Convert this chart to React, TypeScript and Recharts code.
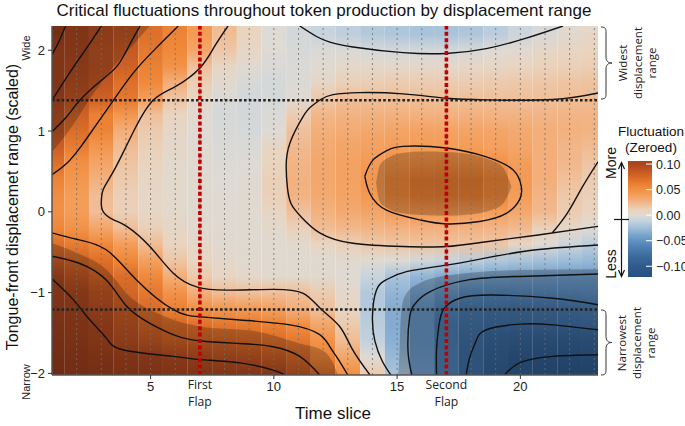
import React from 'react';
import { ComposedChart, XAxis, YAxis, Line, Area, ReferenceArea, ReferenceLine } from 'recharts';

// plot window (data units)
const X_MIN = 1;
const X_MAX = 23.15;
const Y_MIN = -2.02;
const Y_MAX = 2.3;

const timeSlices = [1, 2, 3, 4, 5, 6, 7, 8, 9, 10, 11, 12, 13, 14, 15, 16, 17, 18, 19, 20, 21, 22, 23];
const xTicks = [5, 10, 15, 20];
const yTicks = [-2, -1, 0, 1, 2];
const flapSlices = [7, 17];
const widestCut = 1.38;
const narrowestCut = -1.21;

// fluctuation (zeroed) per time slice, one array per displacement level
const rowY = [2.2, 2.0, 1.8, 1.6, 1.4, 1.2, 1.0, 0.8, 0.6, 0.4, 0.2, 0.0, -0.2, -0.4, -0.6, -0.8, -1.0, -1.2, -1.4, -1.6, -1.8, -2.0];
const fl_p22 = [0.12, 0.105, 0.095, 0.09, 0.07, 0.058, 0.042, 0.022, 0.01, 0.0, -0.005, -0.01, -0.014, -0.018, -0.02, -0.022, -0.022, -0.02, -0.015, -0.008, -0.003, 0.003, 0.006];
const fl_p20 = [0.105, 0.1, 0.092, 0.085, 0.065, 0.055, 0.035, 0.017, 0.007, 0.0, -0.003, -0.002, -0.002, -0.004, -0.005, -0.005, -0.005, -0.003, 0.0, 0.003, 0.006, 0.008, 0.01];
const fl_p18 = [0.105, 0.098, 0.092, 0.08, 0.06, 0.048, 0.02, 0.008, 0.002, -0.002, -0.002, 0.002, 0.005, 0.005, 0.005, 0.005, 0.005, 0.006, 0.007, 0.009, 0.011, 0.012, 0.013];
const fl_p16 = [0.103, 0.095, 0.088, 0.07, 0.055, 0.03, 0.013, 0.003, -0.003, -0.004, -0.002, 0.006, 0.012, 0.013, 0.014, 0.014, 0.014, 0.014, 0.015, 0.016, 0.017, 0.018, 0.019];
const fl_p14 = [0.1, 0.09, 0.08, 0.065, 0.04, 0.018, 0.007, -0.002, -0.005, -0.004, 0.002, 0.016, 0.021, 0.021, 0.021, 0.021, 0.02, 0.02, 0.02, 0.02, 0.02, 0.021, 0.022];
const fl_p12 = [0.095, 0.08, 0.06, 0.045, 0.02, 0.009, 0.002, -0.004, -0.005, -0.002, 0.014, 0.025, 0.027, 0.028, 0.028, 0.028, 0.028, 0.028, 0.027, 0.027, 0.026, 0.026, 0.026];
const fl_p10 = [0.09, 0.072, 0.058, 0.03, 0.015, 0.006, 0.0, -0.003, -0.004, 0.0, 0.02, 0.03, 0.032, 0.034, 0.036, 0.037, 0.037, 0.036, 0.035, 0.033, 0.03, 0.028, 0.027];
const fl_p08 = [0.082, 0.062, 0.045, 0.022, 0.012, 0.005, 0.001, -0.002, -0.002, 0.008, 0.024, 0.032, 0.035, 0.038, 0.04, 0.041, 0.041, 0.04, 0.038, 0.035, 0.03, 0.025, 0.022];
const fl_p06 = [0.07, 0.05, 0.035, 0.018, 0.01, 0.004, 0.001, -0.001, 0.0, 0.01, 0.026, 0.034, 0.037, 0.042, 0.05, 0.053, 0.054, 0.053, 0.048, 0.04, 0.03, 0.024, 0.018];
const fl_p04 = [0.058, 0.045, 0.028, 0.015, 0.008, 0.004, 0.002, 0.0, 0.001, 0.012, 0.028, 0.034, 0.037, 0.045, 0.058, 0.064, 0.065, 0.064, 0.058, 0.042, 0.03, 0.02, 0.014];
const fl_p02 = [0.052, 0.04, 0.022, 0.012, 0.007, 0.004, 0.002, 0.001, 0.002, 0.012, 0.027, 0.033, 0.036, 0.043, 0.056, 0.062, 0.063, 0.062, 0.056, 0.04, 0.026, 0.016, 0.012];
const fl_00 = [0.05, 0.04, 0.021, 0.012, 0.007, 0.004, 0.002, 0.001, 0.002, 0.008, 0.02, 0.028, 0.033, 0.036, 0.042, 0.045, 0.046, 0.044, 0.04, 0.034, 0.024, 0.014, 0.01];
const fl_m02 = [0.056, 0.048, 0.035, 0.021, 0.012, 0.006, 0.003, 0.002, 0.002, 0.004, 0.012, 0.022, 0.025, 0.027, 0.028, 0.029, 0.029, 0.028, 0.026, 0.024, 0.012, 0.006, 0.0];
const fl_m04 = [0.07, 0.063, 0.055, 0.04, 0.022, 0.01, 0.005, 0.003, 0.002, 0.002, 0.004, 0.008, 0.012, 0.016, 0.018, 0.019, 0.019, 0.019, 0.017, 0.008, 0.0, -0.008, -0.015];
const fl_m06 = [0.083, 0.078, 0.07, 0.056, 0.038, 0.017, 0.009, 0.005, 0.003, 0.002, 0.002, 0.002, 0.003, 0.002, 0.0, -0.005, -0.01, -0.014, -0.018, -0.021, -0.024, -0.026, -0.028];
const fl_m08 = [0.1, 0.09, 0.08, 0.072, 0.055, 0.03, 0.015, 0.008, 0.005, 0.004, 0.004, 0.003, 0.0, -0.01, -0.022, -0.03, -0.035, -0.038, -0.04, -0.042, -0.043, -0.044, -0.045];
const fl_m10 = [0.105, 0.1, 0.09, 0.076, 0.065, 0.048, 0.03, 0.022, 0.02, 0.02, 0.02, 0.014, 0.005, -0.018, -0.03, -0.04, -0.05, -0.057, -0.058, -0.058, -0.057, -0.056, -0.055];
const fl_m12 = [0.11, 0.105, 0.095, 0.085, 0.072, 0.06, 0.05, 0.045, 0.042, 0.038, 0.03, 0.02, 0.008, -0.018, -0.035, -0.05, -0.062, -0.07, -0.072, -0.073, -0.073, -0.072, -0.07];
const fl_m14 = [0.115, 0.11, 0.1, 0.09, 0.08, 0.075, 0.07, 0.066, 0.064, 0.06, 0.052, 0.035, 0.015, -0.015, -0.035, -0.05, -0.068, -0.076, -0.08, -0.081, -0.08, -0.08, -0.078];
const fl_m16 = [0.12, 0.115, 0.105, 0.095, 0.088, 0.082, 0.08, 0.079, 0.076, 0.072, 0.066, 0.048, 0.022, -0.012, -0.033, -0.05, -0.068, -0.08, -0.088, -0.092, -0.094, -0.094, -0.093];
const fl_m18 = [0.125, 0.12, 0.115, 0.108, 0.103, 0.098, 0.095, 0.092, 0.09, 0.086, 0.078, 0.06, 0.035, 0.0, -0.028, -0.048, -0.066, -0.082, -0.093, -0.1, -0.102, -0.102, -0.101];
const fl_m20 = [0.13, 0.125, 0.12, 0.115, 0.11, 0.107, 0.105, 0.103, 0.102, 0.1, 0.09, 0.075, 0.05, 0.015, -0.022, -0.045, -0.065, -0.083, -0.097, -0.105, -0.11, -0.112, -0.112];
const fluctRows = [fl_p22, fl_p20, fl_p18, fl_p16, fl_p14, fl_p12, fl_p10, fl_p08, fl_p06, fl_p04, fl_p02, fl_00, fl_m02, fl_m04, fl_m06, fl_m08, fl_m10, fl_m12, fl_m14, fl_m16, fl_m18, fl_m20];

// contour lines [time slice, displacement]
const cTopA = [[1, 1.94], [1.3, 2.12], [1.55, 2.3]];
const cTopB = [[1, 1.38], [1.5, 1.62], [2.0, 1.85], [2.5, 2.07], [3.0, 2.3]];
const cTopC = [[1, 0.99], [1.6, 1.18], [2.13, 1.38], [2.9, 1.6], [3.63, 1.8], [4.1, 2.04], [4.57, 2.3]];
const cTopD = [[1, 0.46], [1.6, 0.6], [2.2, 0.82], [2.8, 1.08], [3.49, 1.38], [4.3, 1.72], [5.2, 2.02], [6.12, 2.3]];
const cZero = [[8.14, 2.3], [7.6, 2.05], [7.0, 1.78], [6.0, 1.55], [5.1, 1.38], [4.4, 1.05], [3.88, 0.73], [3.4, 0.45], [3.07, 0.27], [3.0, 0.12], [3.08, 0.0], [3.5, -0.1], [4.03, -0.18], [4.97, -0.43], [5.92, -0.76], [6.87, -0.93], [8.08, -0.97], [9.97, -0.96], [11.19, -1.01], [11.9, -1.2], [12.67, -1.42], [13.2, -1.71], [13.9, -2.02]];
const cLowA = [[1, -0.26], [2.0, -0.34], [3.2, -0.47], [4.42, -0.84], [5.92, -1.21], [7.04, -1.3], [8.62, -1.34], [10.65, -1.4], [11.86, -1.52], [12.27, -1.67], [12.6, -1.82], [13.0, -2.02]];
const cLowB = [[1, -0.55], [2.13, -0.64], [3.22, -0.85], [4.03, -1.17], [4.97, -1.38], [6.0, -1.53], [7.04, -1.6], [8.62, -1.63], [9.97, -1.67], [11.05, -1.79], [11.86, -2.02]];
const cLowC = [[1, -0.83], [1.87, -1.09], [2.54, -1.34], [3.22, -1.57], [3.9, -1.71], [5.92, -1.79], [7.04, -1.83], [8.62, -1.87], [9.97, -1.96], [10.45, -2.02]];
const cUpper = [[11.05, 2.3], [11.73, 2.17], [12.27, 2.1], [13.21, 2.04], [15.24, 1.97], [17.0, 1.96], [18.62, 2.02], [20.24, 2.15], [21.73, 2.3]];
const cCentre = [[23.15, 1.47], [21.32, 1.39], [18.62, 1.385], [17.0, 1.405], [15.24, 1.46], [13.48, 1.475], [12.4, 1.45], [11.9, 1.39], [11.5, 1.3], [11.19, 1.18], [10.65, 0.85], [10.5, 0.56], [10.55, 0.3], [10.7, 0.1], [11.1, -0.06], [11.86, -0.26], [13.21, -0.39], [15.24, -0.43], [17.0, -0.43], [18.62, -0.37], [20.65, -0.29], [23.15, -0.18]];
const cRightEdge = [[21.3, -0.26], [21.9, -0.02], [22.5, 0.3], [23.15, 0.62]];
const cPeak = [[13.69, 0.44], [14.02, 0.64], [14.6, 0.76], [15.24, 0.81], [17.0, 0.79], [18.62, 0.68], [19.7, 0.52], [20.04, 0.31], [19.97, 0.15], [19.43, -0.02], [18.35, -0.12], [17.0, -0.15], [15.92, -0.1], [14.57, 0.02], [13.89, 0.23], [13.69, 0.44]];
const cDipA = [[23.15, -0.41], [20.65, -0.47], [18.62, -0.57], [17.0, -0.66], [15.38, -0.74], [14.57, -0.84], [14.16, -0.97], [14.0, -1.3], [14.1, -1.6], [14.4, -1.85], [14.75, -2.02]];
const cDipB = [[23.15, -0.77], [19.97, -0.8], [17.94, -0.84], [16.32, -0.99], [15.7, -1.15], [15.51, -1.3], [15.44, -1.71], [15.6, -2.02]];
const cDipC = [[23.15, -1.15], [21.32, -1.07], [18.89, -1.03], [17.54, -1.07], [16.9, -1.2], [16.7, -1.4], [16.6, -1.7], [16.6, -2.02]];
const cDipD = [[23.15, -1.46], [21.32, -1.4], [19.97, -1.39], [18.62, -1.46], [18.2, -1.6], [17.95, -1.8], [17.8, -2.02]];
const cDipE = [[23.15, -1.77], [21.32, -1.79], [19.97, -1.87], [19.36, -2.02]];
const contours = [cTopA, cTopB, cTopC, cTopD, cZero, cLowA, cLowB, cLowC, cUpper, cCentre, cRightEdge, cPeak, cDipA, cDipB, cDipC, cDipD, cDipE];

// shaded (strong) regions: [time slice, low, high]
const shadeTopLeft = [[1, 0.74, 2.3], [1.8, 1.05, 2.3], [2.5, 1.38, 2.3], [3.3, 1.72, 2.3], [4.1, 2.0, 2.3], [4.97, 2.3, 2.3]];
const shadeLowLeft = [[1, -2.02, -0.39], [1.87, -2.02, -0.49], [3.22, -2.02, -0.72], [4.16, -2.02, -1.05], [5.24, -2.02, -1.25], [7.0, -2.02, -1.42], [9.3, -2.02, -1.48], [11.05, -2.02, -1.63], [12.0, -2.02, -1.72], [12.4, -2.02, -1.87], [12.6, -2.02, -2.02]];
const shadePeak = [[14.15, 0.35, 0.36], [14.3, 0.12, 0.58], [14.7, 0.03, 0.68], [15.3, -0.02, 0.73], [16.0, -0.04, 0.745], [17.0, -0.05, 0.74], [18.0, -0.03, 0.71], [18.8, 0.02, 0.64], [19.3, 0.1, 0.55], [19.63, 0.3, 0.32]];
const shadeDip = [[15.05, -2.02, -2.02], [15.1, -2.02, -1.7], [15.15, -2.02, -1.3], [15.3, -2.02, -1.05], [15.92, -2.02, -0.88], [17.27, -2.02, -0.78], [19.97, -2.02, -0.72], [23.15, -2.02, -0.71]];
const shades = [shadeTopLeft, shadeLowLeft, shadePeak, shadeDip];

const legendTicks = [0.1, 0.05, 0, -0.05, -0.1];
const legendTickLabels = ['0.10', '0.05', '0.00', '\u22120.05', '\u22120.10'];
const firstFlapLabel = ['First', 'Flap'];
const secondFlapLabel = ['Second', 'Flap'];

const palette: [number, string][] = [
  [-0.12, '#28507f'],
  [-0.1, '#2f5a8c'],
  [-0.08, '#3d6b9e'],
  [-0.06, '#5283b6'],
  [-0.04, '#76a2cc'],
  [-0.025, '#a1bfd9'],
  [-0.01, '#c8d4dd'],
  [0, '#dedad4'],
  [0.01, '#e9d4bf'],
  [0.025, '#f2b689'],
  [0.04, '#f49d58'],
  [0.055, '#f0893a'],
  [0.07, '#de7029'],
  [0.085, '#c65a22'],
  [0.1, '#a9461e'],
  [0.13, '#8e381a'],
];

const hex = (s: string) => [1, 3, 5].map((i) => parseInt(s.slice(i, i + 2), 16));

const fluctColor = (v: number) => {
  if (v <= palette[0][0]) return palette[0][1];
  for (let i = 1; i < palette.length; i++) {
    const [v1, c1] = palette[i];
    if (v <= v1) {
      const [v0, c0] = palette[i - 1];
      const t = (v - v0) / (v1 - v0);
      const a = hex(c0);
      const b = hex(c1);
      return `rgb(${a.map((ch, k) => Math.round(ch + (b[k] - ch) * t)).join(',')})`;
    }
  }
  return palette[palette.length - 1][1];
};

const minus = (v: number) => (v < 0 ? `\u2212${Math.abs(v)}` : `${v}`);

const SANS = '"Liberation Sans", Arial, Helvetica, sans-serif';
const HUMAN = '"Open Sans", "Noto Sans", sans-serif';

const FlapLabel = (props: any) => {
  const vb = props.viewBox || {};
  const x = vb.x ?? 0;
  const bottom = (vb.y ?? 0) + (vb.height ?? 0);
  return (
    <g>
      {props.lines.map((l: string, i: number) => (
        <text key={l} x={x} y={bottom + 14 + i * 16.5} textAnchor="middle" fontSize={12.2} fontFamily={HUMAN} fill="#222">
          {l}
        </text>
      ))}
    </g>
  );
};

const brace = (top: number, bottom: number) => {
  const mid = (top + bottom) / 2;
  return `M601,${top} C606,${top} 606,${top + 2} 606,${top + 6} L606,${mid - 6} C606,${mid - 2} 608,${mid} 612,${mid} C608,${mid} 606,${mid + 2} 606,${mid + 6} L606,${bottom - 6} C606,${bottom - 2} 606,${bottom} 601,${bottom}`;
};

const App = () => {
  const span = Y_MAX - Y_MIN;
  return (
    <div style={{ position: 'absolute', left: 0, top: 0, width: 685, height: 426, background: '#fff' }}>
      <ComposedChart width={685} height={426} margin={{ top: 26, right: 87, bottom: 21, left: 22 }}>
        <defs>
          {timeSlices.map((t, c) => (
            <linearGradient key={t} id={`slice${t}`} x1="0" y1="0" x2="0" y2="1">
              {rowY.map((y, r) => (
                <stop key={y} offset={(Y_MAX - y) / span} stopColor={fluctColor(fluctRows[r][c])} />
              ))}
            </linearGradient>
          ))}
        </defs>
        <XAxis
          dataKey="x"
          type="number"
          domain={[X_MIN, X_MAX]}
          ticks={xTicks}
          interval={0}
          allowDataOverflow
          height={30}
          tickSize={4}
          tickMargin={3}
          axisLine={{ stroke: '#555', strokeWidth: 1.5 }}
          tickLine={{ stroke: '#333' }}
          tick={{ fontSize: 13, fill: '#222', fontFamily: SANS }}
        />
        <XAxis xAxisId="top" orientation="top" type="number" domain={[X_MIN, X_MAX]} allowDataOverflow height={0} tick={false} tickLine={false} axisLine={{ stroke: '#555', strokeWidth: 1.5 }} />
        <YAxis
          type="number"
          domain={[Y_MIN, Y_MAX]}
          ticks={yTicks}
          interval={0}
          allowDataOverflow
          width={30}
          tickSize={4}
          tickMargin={3}
          tickFormatter={minus}
          axisLine={{ stroke: '#555', strokeWidth: 1.5 }}
          tickLine={{ stroke: '#333' }}
          tick={{ fontSize: 13, fill: '#222', fontFamily: SANS }}
        />
        <YAxis yAxisId="right" orientation="right" type="number" domain={[Y_MIN, Y_MAX]} allowDataOverflow width={0} tick={false} tickLine={false} axisLine={{ stroke: '#555', strokeWidth: 1.5 }} />

        {timeSlices.map((t) => (
          <ReferenceArea
            key={`cell${t}`}
            x1={Math.max(X_MIN, t - 0.5)}
            x2={Math.min(X_MAX, t + 0.5)}
            y1={Y_MIN}
            y2={Y_MAX}
            fill={`url(#slice${t})`}
            fillOpacity={1}
            stroke="none"
          />
        ))}

        {shades.map((s, i) => (
          <Area
            key={`shade${i}`}
            data={s.map(([x, lo, hi]) => ({ x, band: [lo, hi] }))}
            dataKey="band"
            type="monotone"
            stroke="none"
            fill="#000"
            fillOpacity={0.22}
            dot={false}
            activeDot={false}
            isAnimationActive={false}
          />
        ))}

        {timeSlices.slice(1).map((t) => (
          <ReferenceLine key={`grid${t}`} x={t} stroke="#6e6e6e" strokeOpacity={0.8} strokeDasharray="2 3" />
        ))}

        {contours.map((c, i) => (
          <Line
            key={`contour${i}`}
            data={c.map(([x, y]) => ({ x, y }))}
            dataKey="y"
            type="natural"
            stroke="#111"
            strokeWidth={1.4}
            dot={false}
            activeDot={false}
            isAnimationActive={false}
          />
        ))}

        <ReferenceLine y={widestCut} stroke="#222" strokeWidth={2.6} strokeDasharray="2.6 2.2" />
        <ReferenceLine y={narrowestCut} stroke="#222" strokeWidth={2.6} strokeDasharray="2.6 2.2" />
        <ReferenceLine x={flapSlices[0]} stroke="#c00000" strokeWidth={3.6} strokeDasharray="4 2.4" label={<FlapLabel lines={firstFlapLabel} />} />
        <ReferenceLine x={flapSlices[1]} stroke="#c00000" strokeWidth={3.6} strokeDasharray="4 2.4" label={<FlapLabel lines={secondFlapLabel} />} />
      </ComposedChart>

      <svg width={685} height={426} style={{ position: 'absolute', left: 0, top: 0, pointerEvents: 'none' }}>
        <defs>
          <linearGradient id="legendBar" x1="0" y1="0" x2="0" y2="1">
            {palette
              .slice()
              .reverse()
              .filter(([v]) => v <= 0.106 && v >= -0.121)
              .map(([v, c]) => (
                <stop key={v} offset={(0.106 - v) / 0.227} stopColor={c} />
              ))}
          </linearGradient>
        </defs>
        <text x={324} y={16} textAnchor="middle" fontSize={17} fontFamily={SANS} fill="#111">
          Critical fluctuations throughout token production by displacement range
        </text>
        <text transform="translate(18,207) rotate(-90)" textAnchor="middle" fontSize={16} fontFamily={SANS} fill="#111">
          Tongue-front displacemet range (scaled)
        </text>
        <text transform="translate(30,48) rotate(-90)" textAnchor="middle" fontSize={11} fontFamily={SANS} fill="#222">
          Wide
        </text>
        <text transform="translate(30,382) rotate(-90)" textAnchor="middle" fontSize={11} fontFamily={SANS} fill="#222">
          Narrow
        </text>
        <text x={333} y={419} textAnchor="middle" fontSize={17} fontFamily={SANS} fill="#111">
          Time slice
        </text>

        <path d={brace(27, 99)} fill="none" stroke="#333" strokeWidth={1} />
        <path d={brace(310, 375)} fill="none" stroke="#333" strokeWidth={1} />
        {['Widest', 'displacement', 'range'].map((w, i) => (
          <text key={w} transform={`translate(${627 + i * 14.5},63) rotate(-90)`} textAnchor="middle" fontSize={11.5} fontFamily={HUMAN} fill="#222">
            {w}
          </text>
        ))}
        {['Narrowest', 'displacement', 'range'].map((w, i) => (
          <text key={w} transform={`translate(${626 + i * 14.5},343) rotate(-90)`} textAnchor="middle" fontSize={11.5} fontFamily={HUMAN} fill="#222">
            {w}
          </text>
        ))}

        <text x={651} y={136} textAnchor="middle" fontSize={13.5} fontFamily={SANS} fill="#111">
          Fluctuation
        </text>
        <text x={651} y={152} textAnchor="middle" fontSize={13.5} fontFamily={SANS} fill="#111">
          (Zeroed)
        </text>
        <rect x={628} y={161} width={24} height={116} fill="url(#legendBar)" />
        {legendTicks.map((v, i) => {
          const y = 161 + ((0.106 - v) / 0.227) * 116;
          return (
            <g key={v}>
              <line x1={646} x2={652} y1={y} y2={y} stroke="#fff" strokeWidth={1} />
              <text x={656} y={y + 4.5} fontSize={12.5} fontFamily={SANS} fill="#222">
                {legendTickLabels[i]}
              </text>
            </g>
          );
        })}
        <text transform="translate(616,163) rotate(-90)" textAnchor="middle" fontSize={14} fontFamily={SANS} fill="#111">
          More
        </text>
        <text transform="translate(616,264) rotate(-90)" textAnchor="middle" fontSize={14} fontFamily={SANS} fill="#111">
          Less
        </text>
        <line x1={621.5} x2={621.5} y1={163} y2={276} stroke="#111" strokeWidth={1.2} />
        <path d="M618.5,169 L621.5,162.5 L624.5,169" fill="none" stroke="#111" strokeWidth={1.2} />
        <path d="M618.5,270 L621.5,276.5 L624.5,270" fill="none" stroke="#111" strokeWidth={1.2} />
        <line x1={614} x2={629} y1={219.5} y2={219.5} stroke="#111" strokeWidth={1.2} />
      </svg>
    </div>
  );
};

export default App;
